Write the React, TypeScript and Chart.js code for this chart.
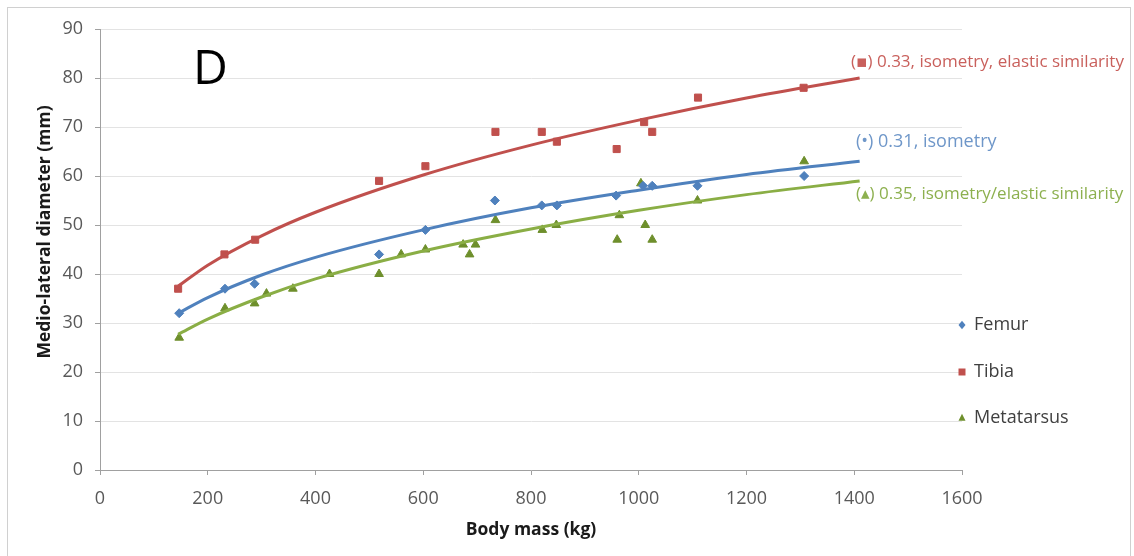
import React, { useEffect, useRef } from "react";
import { Chart, registerables } from "chart.js";

Chart.register(...registerables);

// ---- data ----
const femurMass = [147, 232, 287, 518, 604, 733, 820, 848, 958, 1008, 1025, 1109, 1307];
const femurDiam = [32, 37, 38, 44, 49, 55, 54, 54, 56, 58, 58, 58, 60];

const tibiaMass = [145, 231, 288, 518, 604, 734, 820, 848, 959, 1010, 1025, 1110, 1306];
const tibiaDiam = [37, 44, 47, 59, 62, 69, 69, 67, 65.5, 71, 69, 76, 78];

const metaMass = [147, 232, 287, 309, 358, 426, 518, 559, 604, 674, 686, 697, 734, 821, 847, 960, 964, 1004, 1012, 1025, 1109, 1307];
const metaDiam = [27, 33, 34, 36, 37, 40, 40, 44, 45, 46, 44, 46, 51, 49, 50, 47, 52, 58.5, 50, 47, 55, 63];

// trend curves at sample masses
const fitMass = [145, 200, 300, 400, 600, 800, 1000, 1200, 1410];
const femurFit = [32, 35.2, 39.8, 43.4, 49.0, 53.5, 57.1, 60.3, 63.0];
const tibiaFit = [37.5, 41.8, 47.8, 52.6, 60.2, 66.3, 71.4, 75.9, 80.0];
const metaFit = [27.7, 30.8, 35.3, 39.0, 44.7, 49.2, 53.0, 56.2, 59.0];

const xTickValues = [0, 200, 400, 600, 800, 1000, 1200, 1400, 1600];
const yTickValues = [0, 10, 20, 30, 40, 50, 60, 70, 80, 90];

const seriesNames = ["Femur", "Tibia", "Metatarsus"];
const exponentNotes = [
  "(•) 0.31, isometry",
  "(▪) 0.33, isometry, elastic similarity",
  "(▴) 0.35, isometry/elastic similarity",
];
const panelLetter = "D";
const xTitle = "Body mass (kg)";
const yTitle = "Medio-lateral diameter (mm)";

const BLUE = "#4F81BD";
const RED = "#C0504D";
const GREEN_LINE = "#8AAE45";
const GREEN_MARK = "#6E8F2C";
const FONT = "'Open Sans', 'DejaVu Sans', sans-serif";

const toPts = (xs: number[], ys: number[]) => xs.map((x, i) => ({ x, y: ys[i] }));

function marker(ctx: CanvasRenderingContext2D, style: string, x: number, y: number, r: number) {
  ctx.beginPath();
  if (style === "rect") {
    ctx.rect(x - r, y - r, 2 * r, 2 * r);
  } else if (style === "rectRot") {
    ctx.moveTo(x, y - r * 1.2);
    ctx.lineTo(x + r, y);
    ctx.lineTo(x, y + r * 1.2);
    ctx.lineTo(x - r, y);
    ctx.closePath();
  } else {
    ctx.moveTo(x, y - r * 1.2);
    ctx.lineTo(x + r, y + r * 0.8);
    ctx.lineTo(x - r, y + r * 0.8);
    ctx.closePath();
  }
  ctx.fill();
}

const overlay = {
  id: "overlay",
  beforeDraw(chart: any) {
    const ctx = chart.ctx;
    ctx.save();
    ctx.fillStyle = "#ffffff";
    ctx.fillRect(0, 0, chart.width, chart.height);
    ctx.strokeStyle = "#D0D0D0";
    ctx.lineWidth = 1;
    ctx.strokeRect(7.5, 7.5, 1123, 600);
    ctx.restore();
  },
  afterDraw(chart: any) {
    const ctx = chart.ctx;
    const area = chart.chartArea;
    ctx.save();
    // panel letter
    ctx.fillStyle = "#000000";
    ctx.font = `48px ${FONT}`;
    ctx.textAlign = "left";
    ctx.textBaseline = "alphabetic";
    ctx.fillText(panelLetter, 193, 84);

    // exponent notes
    ctx.font = `17px ${FONT}`;
    ctx.textBaseline = "middle";
    ctx.fillStyle = "#C9605C";
    ctx.fillText(exponentNotes[1], 851, 62);
    ctx.fillStyle = "#6F97C9";
    ctx.font = `18px ${FONT}`;
    ctx.fillText(exponentNotes[0], 856, 142);
    ctx.fillStyle = "#8DB04F";
    ctx.font = `17px ${FONT}`;
    ctx.fillText(exponentNotes[2], 856, 194);

    // legend
    const legendY = [325, 372, 418];
    const colors = [BLUE, RED, GREEN_MARK];
    const styles = ["rectRot", "rect", "triangle"];
    for (let i = 0; i < 3; i++) {
      ctx.fillStyle = colors[i];
      marker(ctx, styles[i], 962, legendY[i], 3.5);
      ctx.fillStyle = "#404040";
      ctx.font = `18px ${FONT}`;
      ctx.textAlign = "left";
      ctx.textBaseline = "middle";
      ctx.fillText(seriesNames[i], 974, legendY[i]);
    }

    // axis titles
    ctx.fillStyle = "#1a1a1a";
    ctx.font = `bold 17.5px ${FONT}`;
    ctx.textAlign = "center";
    ctx.textBaseline = "middle";
    ctx.fillText(xTitle, (area.left + area.right) / 2, 530);
    ctx.translate(45, 232);
    ctx.rotate(-Math.PI / 2);
    ctx.fillText(yTitle, 0, 0);
    ctx.restore();
  },
};

export default function App() {
  const ref = useRef<HTMLCanvasElement | null>(null);
  useEffect(() => {
    document.body.style.margin = "0";
    const canvas = ref.current!;
    const chart = new Chart(canvas, {
      type: "scatter",
      data: {
        datasets: [
          { label: "Femur fit", data: toPts(fitMass, femurFit), showLine: true, borderColor: BLUE, borderWidth: 3, pointRadius: 0, cubicInterpolationMode: "monotone", order: 0 } as any,
          { label: "Tibia fit", data: toPts(fitMass, tibiaFit), showLine: true, borderColor: RED, borderWidth: 3, pointRadius: 0, cubicInterpolationMode: "monotone", order: 0 } as any,
          { label: "Metatarsus fit", data: toPts(fitMass, metaFit), showLine: true, borderColor: GREEN_LINE, borderWidth: 3, pointRadius: 0, cubicInterpolationMode: "monotone", order: 0 } as any,
          { label: seriesNames[0], data: toPts(femurMass, femurDiam), pointStyle: "rectRot", pointRadius: 4.5, backgroundColor: BLUE, borderColor: BLUE, borderWidth: 1, order: 1 },
          { label: seriesNames[1], data: toPts(tibiaMass, tibiaDiam), pointStyle: "rect", pointRadius: 5, backgroundColor: RED, borderColor: RED, borderWidth: 1, order: 1 },
          { label: seriesNames[2], data: toPts(metaMass, metaDiam), pointStyle: "triangle", pointRadius: 5, backgroundColor: GREEN_MARK, borderColor: GREEN_MARK, borderWidth: 1, order: 1 },
        ],
      },
      options: {
        animation: false,
        responsive: false,
        maintainAspectRatio: false,
        layout: { padding: { top: 29, right: 172, bottom: 0, left: 0 } },
        plugins: { legend: { display: false }, tooltip: { enabled: false } },
        scales: {
          x: {
            type: "linear",
            min: 0,
            max: 1600,
            afterBuildTicks: (s: any) => { s.ticks = xTickValues.map((v) => ({ value: v })); },
            afterFit: (s: any) => { s.height = 86; },
            grid: { drawOnChartArea: false, drawTicks: true, tickLength: 5, tickColor: "#A0A0A0" },
            border: { display: true, color: "#A0A0A0", width: 1 },
            ticks: { color: "#595959", font: { family: FONT, size: 18 }, padding: 13, maxRotation: 0, callback: (v: any) => String(v) },
          },
          y: {
            type: "linear",
            min: 0,
            max: 90,
            afterBuildTicks: (s: any) => { s.ticks = yTickValues.map((v) => ({ value: v })); },
            afterFit: (s: any) => { s.width = 100; },
            grid: { color: "#E3E3E3", drawTicks: true, tickLength: 5, tickColor: "#A0A0A0" },
            border: { display: true, color: "#A0A0A0", width: 1 },
            ticks: { color: "#595959", font: { family: FONT, size: 18 }, padding: 12, callback: (v: any) => String(v) },
          },
        },
      },
      plugins: [overlay],
    });
    return () => chart.destroy();
  }, []);
  return (
    <div style={{ position: "absolute", left: 0, top: 0, width: 1134, height: 556 }}>
      <canvas ref={ref} width={1134} height={556} style={{ width: 1134, height: 556, display: "block" }} />
    </div>
  );
}
